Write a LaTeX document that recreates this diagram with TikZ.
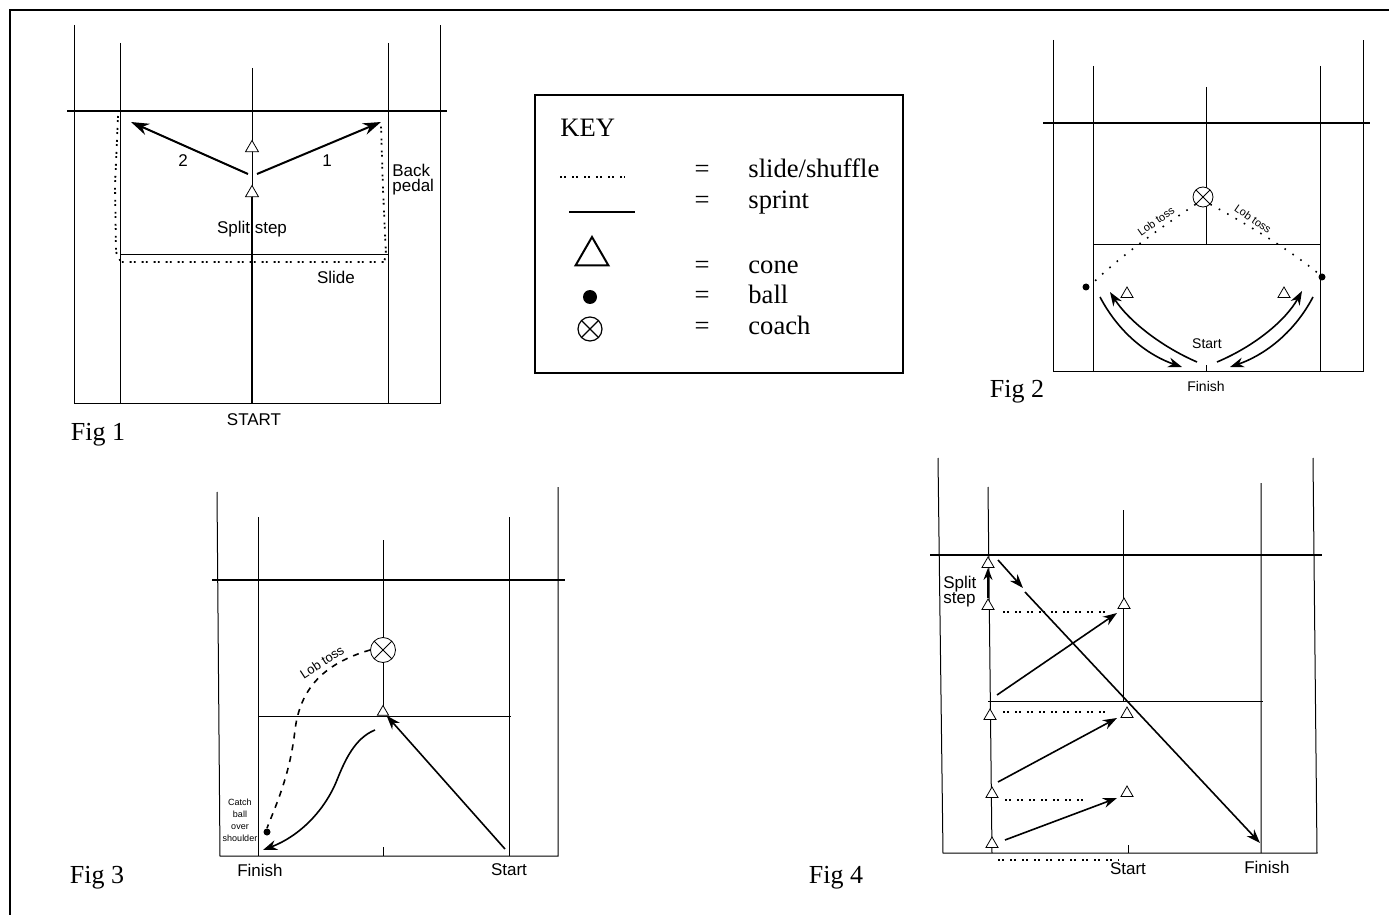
\documentclass[tikz,border=0pt]{standalone}
\usepackage{fontspec}
\setmainfont{Liberation Sans}
\newfontfamily\figfont{Liberation Serif}
\usetikzlibrary{arrows.meta,shapes.geometric}
\begin{document}
\begin{tikzpicture}[x=0.5pt,y=-0.5pt,
  court/.style={line width=0.5pt},
  netline/.style={line width=1.3pt},
  sprint/.style={line width=0.8pt,-{Stealth[length=7pt,width=5pt]}},
  shuffle/.style={line width=0.9pt,dash pattern=on 0.9pt off 1.2pt on 0.9pt off 3pt},
  lobpath/.style={line width=0.8pt,dash pattern=on 0.8pt off 4pt},
  cone/.style={draw,fill=white,regular polygon,regular polygon sides=3,inner sep=0pt,minimum size=#1},
  cone/.default=7.5pt,
  ball/.style={circle,fill=black,inner sep=0pt,minimum size=#1},
  ball/.default=3.5pt,
  coach/.style={circle,draw,fill=white,inner sep=0pt,minimum size=#1,
    path picture={\draw (path picture bounding box.south west) -- (path picture bounding box.north east)
      (path picture bounding box.north west) -- (path picture bounding box.south east);}},
  lbl/.style={font=\fontsize{8.5}{7.5}\selectfont,inner sep=1pt},
  small/.style={font=\fontsize{7}{7}\selectfont,inner sep=1pt},
  tiny/.style={font=\fontsize{5.5}{5.5}\selectfont,inner sep=0.5pt},
  figlbl/.style={font=\figfont\fontsize{13}{14}\selectfont,inner sep=0pt},
  keytxt/.style={font=\figfont\fontsize{13.3}{14}\selectfont,inner sep=0pt}]
\useasboundingbox (0,0) rectangle (1389,915);
% frame
\draw[line width=1.4pt] (10,915) -- (10,10) -- (1389,10);

% ---------------- Fig 1
\draw[court] (74,25) -- (74,403) -- (440,403) -- (440,25);
\draw[court] (120,43) -- (120,403) (388,43) -- (388,403);
\draw[court] (252,68) -- (252,403);
\draw[court] (120,255) -- (388,255);
\draw[netline] (67,111) -- (447,111);
\draw[shuffle] (118,116) -- (115,185) -- (116,252) -- (121,262) -- (384,262) -- (386,255) -- (383,190) -- (381,125);
\node[cone] (f1top) at (252,148) {};
\node[cone] (f1low) at (252,193) {};
\draw[line width=1pt] (252,403) -- (f1low.south);
\coordinate (f1c1) at (381,122);
\coordinate (f1c2) at (131,122);
\draw[sprint,line width=1pt,-{Stealth[length=9pt,width=6pt]}] (257,174) -- (f1c1);
\draw[sprint,line width=1pt,-{Stealth[length=9pt,width=6pt]}] (248,174) -- (f1c2);
\node[lbl] (f1two) at (183,161) {2};
\node[lbl] (f1one) at (327,161) {1};
\node[lbl,align=left,anchor=west] (f1back) at (390,180) {Back\\pedal};
\node[lbl] (f1split) at (252,229) {Split step};
\node[lbl] (f1slide) at (336,277) {Slide};
\node[lbl] (f1start) at (254,420) {START};
\node[figlbl,anchor=base] (fig1) at (98,440) {Fig 1};

% ---------------- key
\draw[line width=1.2pt] (535,95) rectangle (903,373);
\node[keytxt,anchor=base west] (keyhead) at (560,137) {KEY};
\draw[shuffle] (560,177) -- (625,177);
\draw[line width=0.6pt] (569,212) -- (635,212);
\node[cone=19pt,line width=1pt] (keycone) at (592,256) {};
\node[ball=7pt] (keyball) at (590,297) {};
\node[coach=12pt,line width=0.6pt] (keycoach) at (590,329) {};
\foreach \y/\t in {178/slide\slash shuffle,209/sprint,273/cone,304/ball,335/coach}{
  \node[keytxt,anchor=base] at (702,\y) {=};
  \node[keytxt,anchor=base west] at (748,\y) {\t};
}

% ---------------- Fig 2
\draw[court] (1053,40) -- (1053,371) -- (1363,371) -- (1363,40);
\draw[court] (1093,66) -- (1093,371) (1320,66) -- (1320,371);
\draw[court] (1206,87) -- (1206,245) (1206,365) -- (1206,371);
\draw[court] (1093,245) -- (1320,245);
\draw[netline] (1043,123) -- (1370,123);
\node[coach=10pt] (f2coach) at (1203,197) {};
\node[ball] (f2ballL) at (1086,287) {};
\node[ball] (f2ballR) at (1322,277) {};
\draw[lobpath] (f2coach.south west) .. controls (1160,228) and (1118,258) .. (1093,283);
\draw[lobpath] (f2coach.south east) .. controls (1250,226) and (1290,250) .. (f2ballR.north west);
\node[tiny,rotate=35] (f2lobL) at (1156,221) {Lob toss};
\node[tiny,rotate=-35] (f2lobR) at (1253,219) {Lob toss};
\node[cone=7pt] (f2coneL) at (1127,294) {};
\node[cone=7pt] (f2coneR) at (1284,294) {};
\draw[sprint] (1100,297) .. controls (1120,335) and (1150,356) .. (1182,367);
\draw[sprint] (1197,362) .. controls (1160,346) and (1128,320) .. (1110,292);
\draw[sprint] (1217,362) .. controls (1255,346) and (1286,320) .. (1302,291);
\draw[sprint] (1313,297) .. controls (1293,335) and (1262,356) .. (1230,367);
\node[small] (f2start) at (1207,344) {Start};
\node[small] (f2finish) at (1206,386) {Finish};
\node[figlbl,anchor=base] (fig2) at (1017,397) {Fig 2};

% ---------------- Fig 3
\draw[court] (217,492) -- (220,856) -- (558,856) -- (558,487);
\draw[court] (258,517) -- (258,856) (509,517) -- (509,856);
\draw[court] (383,540) -- (383,712) (383,847) -- (383,856);
\draw[court] (258,716) -- (511,716);
\draw[netline] (212,580) -- (565,580);
\node[coach=12.5pt] (f3coach) at (383,650) {};
\node[cone=6.5pt] (f3cone) at (383,712) {};
\node[ball] (f3ball) at (267,832) {};
\draw[line width=0.8pt,dashed] (f3coach.west) .. controls (322,664) and (300,690) .. (295,730) .. controls (290,775) and (276,805) .. (f3ball.north);
\node[tiny,font=\fontsize{6.5}{6.5}\selectfont,rotate=33] (f3lob) at (322,662) {Lob toss};
\draw[sprint] (375,730) .. controls (355,738) and (345,760) .. (337,780) .. controls (325,810) and (300,836) .. (263,850);
\draw[sprint] (505,849) -- (f3cone.south east);
\node[font=\fontsize{4.5}{6}\selectfont,align=center,inner sep=0pt] (f3catch) at (240,820) {Catch\\ball\\over\\shoulder};
\node[lbl] (f3finish) at (260,870) {Finish};
\node[lbl] (f3start) at (509,870) {Start};
\node[figlbl,anchor=base] (fig3) at (97,883) {Fig 3};

% ---------------- Fig 4
\draw[court] (938,458) -- (943,853) -- (1317,853) -- (1313,458);
\draw[court] (988,487) -- (992,853) (1261,483) -- (1261,853);
\draw[court] (1123,510) -- (1123,701) (1128,845) -- (1128,853);
\draw[court] (988,701) -- (1263,701);
\draw[netline] (930,555) -- (1322,555);
\draw[shuffle] (1003,612) -- (1110,612);
\draw[shuffle] (1003,712) -- (1110,712);
\draw[shuffle] (1005,800) -- (1087,800);
\draw[shuffle] (998,860) -- (1119,860);
\node[cone=7pt] (f4a) at (988,564) {};
\node[cone=7pt] (f4b) at (988,606) {};
\node[cone=7pt] (f4c) at (990,716) {};
\node[cone=7pt] (f4d) at (992,794) {};
\node[cone=7pt] (f4e) at (992,844) {};
\node[cone=7pt] (f4f) at (1124,605) {};
\node[cone=7pt] (f4g) at (1127,714) {};
\node[cone=7pt] (f4h) at (1127,793) {};
\draw[sprint,-{Stealth[length=6pt,width=4.5pt]}] (f4b.north) -- (f4a.south);
\draw[sprint] (997,695) -- (1117,613);
\draw[sprint] (998,782) -- (1117,718);
\draw[sprint] (1005,840) -- (1117,798);
\coordinate (f4mid) at (1023,588);
\coordinate (f4end) at (1260,843);
\draw[sprint] (998,560) -- (f4mid);
\draw[sprint] (1025,592) -- (f4end);
\node[lbl,align=left,anchor=west] (f4split) at (941,592) {Split\\step};
\node[lbl] (f4start) at (1128,869) {Start};
\node[lbl] (f4finish) at (1267,867) {Finish};
\node[figlbl,anchor=base] (fig4) at (836,883) {Fig 4};
\end{tikzpicture}
\end{document}
